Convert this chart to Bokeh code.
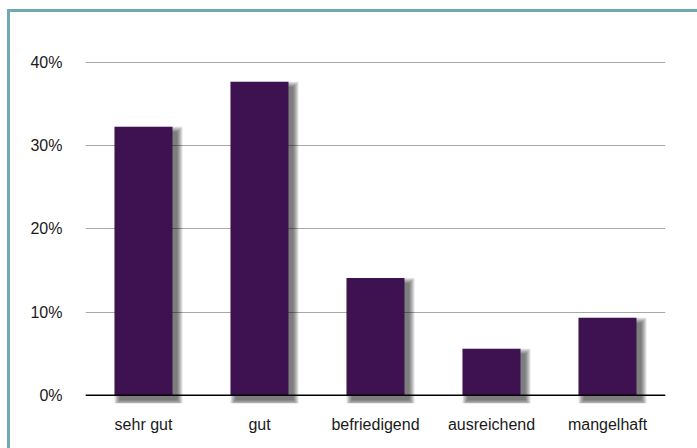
from bokeh.plotting import figure
from bokeh.models import FactorRange, Range1d, NumeralTickFormatter, Span, ColumnDataSource, FixedTicker, InlineStyleSheet
from bokeh.transform import dodge
from bokeh.embed import file_html
from bokeh.resources import INLINE

categories = ["sehr gut", "gut", "befriedigend", "ausreichend", "mangelhaft"]
shares = [0.323, 0.377, 0.141, 0.056, 0.093]
y_ticks = [0.0, 0.1, 0.2, 0.3, 0.4]

BAR_COLOR = "#3e1151"
BORDER_COLOR = "#70a8b3"

W, H = 697, 448
LEFT, RIGHT, TOP, BOTTOM = 85, 32, 58, 45
Y0, Y1 = -0.01, 0.405

p = figure(width=W, height=H, x_range=FactorRange(*categories, range_padding=0),
           y_range=Range1d(Y0, Y1), output_backend="svg", toolbar_location=None,
           min_border_left=LEFT, min_border_right=RIGHT, min_border_top=TOP,
           min_border_bottom=BOTTOM)
p.outline_line_color = None
p.background_fill_color = "white"
p.border_fill_color = "white"

frame_w = W - LEFT - RIGHT
frame_h = H - TOP - BOTTOM
px_x = 1.0 / (frame_w / len(categories))
px_y = (Y1 - Y0) / frame_h

src = ColumnDataSource(dict(cat=categories, val=shares))

# soft drop shadow
for k in range(6):
    src_k = ColumnDataSource(dict(cat=categories,
                                  top=[v - 5 * px_y + k * px_y for v in shares],
                                  bottom=[-5 * px_y - k * px_y] * len(shares)))
    p.vbar(x=dodge("cat", 5 * px_x, range=p.x_range), top="top", bottom="bottom",
           width=0.5 + 2 * k * px_x, source=src_k, fill_color="black",
           fill_alpha=0.11, line_color=None)

p.vbar(x="cat", top="val", bottom=0, width=0.5, source=src,
       fill_color=BAR_COLOR, line_color=None)

p.add_layout(Span(location=0, dimension="width", line_color="black", line_width=1.5))

p.xgrid.grid_line_color = None
p.ygrid.grid_line_color = "#a8a8a8"
p.ygrid.grid_line_width = 1
p.yaxis.ticker = FixedTicker(ticks=y_ticks)
p.yaxis.formatter = NumeralTickFormatter(format="0%")

for ax in (p.xaxis[0], p.yaxis[0]):
    ax.axis_line_color = None
    ax.major_tick_line_color = None
    ax.minor_tick_line_color = None
    ax.major_tick_out = 0
    ax.major_tick_in = 0
    ax.minor_tick_out = 0
    ax.major_label_text_font = "Liberation Sans"
    ax.major_label_text_font_size = "16px"
    ax.major_label_text_color = "#1a1a1a"
p.yaxis.major_label_standoff = 23
p.xaxis.major_label_standoff = 12

# outer frame: only its top and left edges fall inside the window
p.stylesheets = [InlineStyleSheet(css=f"""
:host {{ position: relative; }}
:host::after {{
  content: ""; position: absolute; left: 7px; top: 9px; right: 0; bottom: 0;
  border-top: 3px solid {BORDER_COLOR}; border-left: 3px solid {BORDER_COLOR};
  pointer-events: none; box-sizing: border-box;
}}
""")]

open("out.html", "w").write(file_html(p, INLINE))
